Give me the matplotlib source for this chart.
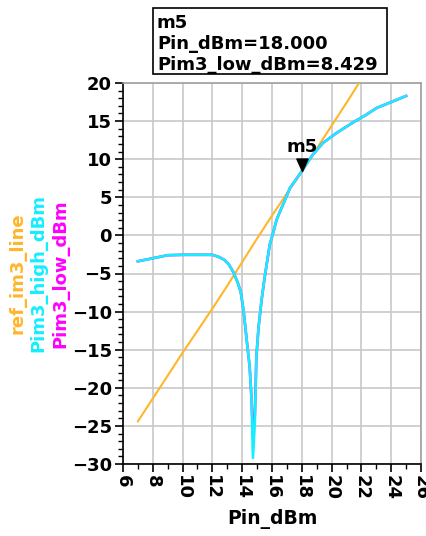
import matplotlib
matplotlib.use("Agg")
import matplotlib.pyplot as plt
from matplotlib.patches import Rectangle
from matplotlib.path import Path

# ref_im3_line
pin_ref = [7, 8, 9, 10, 11, 12, 13, 14, 15, 16, 17, 18, 19, 20, 21, 22]
ref_im3 = [-24.4, -21.4, -18.4, -15.4, -12.5, -9.6, -6.6, -3.5, -0.4, 2.6, 5.5, 8.4, 11.4, 14.4, 17.4, 20.5]

# Pim3 curves
pin = [7.0, 8.0, 9.0, 10.0, 11.0, 12.0, 12.4, 12.8, 13.1, 13.4, 13.7, 13.9, 14.1, 14.3, 14.5, 14.63,
       14.72, 14.85, 14.95, 15.1, 15.3, 15.5, 15.65, 15.85, 16.1, 16.3, 16.55, 16.8, 17.2, 17.6, 18.0,
       18.7, 19.4, 20.3, 21.5, 22.3, 23.0, 24.0, 25.0]
pim3_high = [-3.4, -3.0, -2.6, -2.55, -2.55, -2.55, -2.8, -3.2, -3.8, -4.8, -6.2, -7.4, -10.0, -13.7, -17.2, -21.6,
             -29.2, -24.5, -16.0, -12.0, -8.5, -5.6, -3.7, -1.2, 0.5, 2.0, 3.2, 4.3, 6.2, 7.3, 8.43,
             10.5, 12.1, 13.4, 14.9, 15.8, 16.7, 17.5, 18.3]
pim3_low = [-3.4, -3.0, -2.6, -2.55, -2.55, -2.55, -2.8, -3.2, -3.8, -4.8, -6.2, -7.4, -10.0, -13.7, -17.2, -21.6,
            -26.3, -23.5, -16.0, -12.0, -8.5, -5.6, -3.7, -1.2, 0.5, 2.0, 3.2, 4.3, 6.2, 7.3, 8.429,
            10.5, 12.1, 13.4, 14.9, 15.8, 16.7, 17.5, 18.3]

m5_x = 18.0
m5_y = 8.429

orange = '#FFB62A'
cyan = '#14EEFF'
magenta = '#FF00FF'

W, H = 427, 536
fig = plt.figure(figsize=(W / 100, H / 100), dpi=100)
ax = fig.add_axes([123 / W, 1 - 464 / H, (421 - 123) / W, (464 - 83) / H])

ax.plot(pin_ref, ref_im3, color=orange, lw=1.5, zorder=3)
ax.plot(pin, pim3_low, color=magenta, lw=1.9, zorder=3)
ax.plot(pin, pim3_high, color=cyan, lw=1.9, zorder=4)

# marker m5 (triangle with tip on the point)
tri = Path([(0, 0), (-0.45, 1), (0.45, 1), (0, 0)], [Path.MOVETO, Path.LINETO, Path.LINETO, Path.CLOSEPOLY])
ax.plot(m5_x, m5_y, marker=tri, markersize=18, color='black', zorder=5, clip_on=False)
ax.annotate('m5', (m5_x, m5_y), xytext=(0, 14), textcoords='offset points',
            ha='center', va='baseline', fontsize=13, fontweight='bold', zorder=6)

ax.set_xlim(6, 26)
ax.set_ylim(-30, 20)
ax.set_xticks(range(6, 27, 2))
ax.set_xticks(range(6, 27, 1), minor=True)
ax.set_yticks(range(-30, 21, 5))
ax.set_yticks(range(-30, 21, 1), minor=True)
ax.tick_params(axis='both', which='major', length=6, width=1.2, labelsize=13, pad=2)
ax.tick_params(axis='both', which='minor', length=3.5, width=1.0)
ax.tick_params(axis='x', labelrotation=270)
for lab in ax.get_xticklabels() + ax.get_yticklabels():
    lab.set_fontweight('bold')

ax.grid(which='major', color='#C8C8C8', lw=1.2)
for s in ['top', 'right']:
    ax.spines[s].set_color('#A0A0A0')
    ax.spines[s].set_linewidth(1.2)
for s in ['left', 'bottom']:
    ax.spines[s].set_linewidth(1.2)

ax.set_xlabel('Pin_dBm', fontsize=13.5, fontweight='bold', labelpad=6)

# stacked y labels
yc = 1 - 273.5 / H
fig.text(18 / W, yc, 'ref_im3_line', color=orange, rotation=90, ha='center', va='center',
         fontsize=13, fontweight='bold')
fig.text(38 / W, yc, 'Pim3_high_dBm', color=cyan, rotation=90, ha='center', va='center',
         fontsize=13, fontweight='bold')
fig.text(60 / W, yc, 'Pim3_low_dBm', color=magenta, rotation=90, ha='center', va='center',
         fontsize=13, fontweight='bold')

# marker readout box
fig.patches.append(Rectangle((153 / W, 1 - 74 / H), (387 - 153) / W, (74 - 7.5) / H,
                             transform=fig.transFigure, fill=False, edgecolor='black', lw=1.2))
lines = ['m5', 'Pin_dBm=%.3f' % m5_x, 'Pim3_low_dBm=%.3f' % m5_y]
for txt, yb in zip(lines, [28, 49.3, 70]):
    fig.text(157 / W, 1 - yb / H, txt, ha='left', va='baseline', fontsize=13, fontweight='bold')

fig.savefig('out.png', dpi=100)
